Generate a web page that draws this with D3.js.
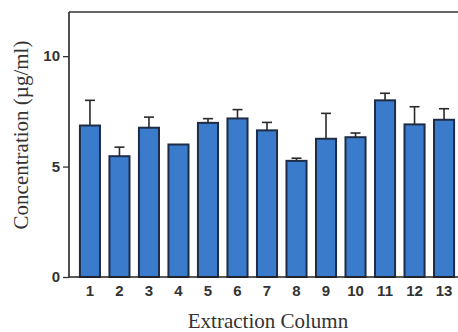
<!DOCTYPE html>
<html>
<head>
<meta charset="utf-8">
<script src="https://cdn.jsdelivr.net/npm/d3@7"></script>
<style>
  html, body { margin: 0; padding: 0; background: #fff; }
  svg { display: block; }
</style>
</head>
<body>
<svg id="chart" width="458" height="332"></svg>
<script>
// Extraction columns and measured concentrations (µg/ml), with upper error limits
const columns = ["1","2","3","4","5","6","7","8","9","10","11","12","13"];
const means   = [6.86, 5.47, 6.76, 6.0, 6.98, 7.18, 6.64, 5.26, 6.26, 6.33, 8.0, 6.91, 7.12];
const errors  = [1.14, 0.41, 0.48, 0.0, 0.19, 0.40, 0.36, 0.12, 1.15, 0.19, 0.32, 0.80, 0.50];
const yTicks  = [0, 5, 10];

const svg = d3.select("#chart");
const plotL = 69, plotT = 12, plotB = 277, plotR = 465;

const x = d3.scaleBand()
  .domain(columns)
  .range([plotL, plotR])
  .paddingInner(0.32)
  .paddingOuter(0.37);

const y = d3.scaleLinear()
  .domain([0, 12])
  .range([plotB, plotT]);

// bars
const bars = svg.append("g");
bars.selectAll("rect")
  .data(columns)
  .join("rect")
  .attr("x", d => x(d))
  .attr("y", (d, i) => y(means[i]))
  .attr("width", x.bandwidth())
  .attr("height", (d, i) => y(0) - y(means[i]))
  .attr("fill", "#3b7bcc")
  .attr("stroke", "#1e2d45")
  .attr("stroke-width", 2);

// upper error bars
const err = svg.append("g").attr("stroke", "#2a2a2a").attr("stroke-width", 1.6);
columns.forEach((c, i) => {
  if (errors[i] <= 0) return;
  const cx = x(c) + x.bandwidth() / 2;
  err.append("line")
    .attr("x1", cx).attr("x2", cx)
    .attr("y1", y(means[i])).attr("y2", y(means[i] + errors[i]));
  err.append("line")
    .attr("x1", cx - 5).attr("x2", cx + 5)
    .attr("y1", y(means[i] + errors[i])).attr("y2", y(means[i] + errors[i]));
});

// frame: top line
svg.append("line")
  .attr("x1", plotL).attr("x2", 458)
  .attr("y1", plotT).attr("y2", plotT)
  .attr("stroke", "#333").attr("stroke-width", 1.5);

// y axis
const yAxis = svg.append("g")
  .attr("transform", `translate(${plotL},0)`)
  .call(d3.axisLeft(y).tickValues(yTicks).tickSize(6).tickPadding(3).tickSizeOuter(0));
yAxis.select(".domain").attr("stroke", "#222").attr("stroke-width", 1.6)
  .attr("d", `M0,${plotT}V${plotB}`);
yAxis.selectAll(".tick line").attr("stroke", "#333").attr("stroke-width", 1.3);
yAxis.selectAll(".tick text")
  .attr("font-family", "Liberation Sans, Arial, sans-serif")
  .attr("font-size", 15)
  .attr("font-weight", 600)
  .attr("fill", "#333");

// x axis
const xAxis = svg.append("g")
  .attr("transform", `translate(0,${plotB})`)
  .call(d3.axisBottom(x).tickSize(0).tickPadding(8).tickSizeOuter(0));
xAxis.select(".domain").attr("stroke", "#222").attr("stroke-width", 1.6)
  .attr("d", `M${plotL},0H458`);
xAxis.selectAll(".tick text")
  .attr("font-family", "Liberation Sans, Arial, sans-serif")
  .attr("font-size", 15)
  .attr("font-weight", 600)
  .attr("fill", "#333");

// axis titles
svg.append("text")
  .attr("transform", `translate(28,135) rotate(-90)`)
  .attr("text-anchor", "middle")
  .attr("font-family", "Liberation Serif, Times New Roman, serif")
  .attr("font-size", 21)
  .attr("fill", "#333")
  .text("Concentration (µg/ml)");

svg.append("text")
  .attr("x", 268)
  .attr("y", 328)
  .attr("text-anchor", "middle")
  .attr("font-family", "Liberation Serif, Times New Roman, serif")
  .attr("font-size", 21)
  .attr("fill", "#333")
  .text("Extraction Column");
</script>
</body>
</html>
